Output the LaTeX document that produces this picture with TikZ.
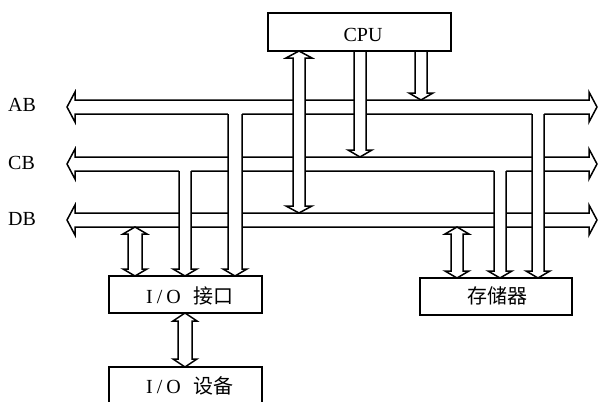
\documentclass[tikz,border=0pt]{standalone}
\usepackage{fontspec}
\setmainfont{Liberation Serif}
\newfontfamily\cjk{Noto Sans CJK SC}
\tikzset{
  arr/.style={line width=1.5pt, line join=miter},
  box/.style={draw, line width=1.6pt, fill=white, inner sep=0pt},
  lbl/.style={inner sep=0pt, font=\fontsize{20}{22}\selectfont},
  cjklbl/.style={inner sep=0pt, font=\fontsize{20}{22}\selectfont}
}
% horizontal bus: center y
\newcommand\busarrow[1]{%
  \filldraw[arr, fill=white] (67,#1) -- (75,{#1-15}) -- (75,{#1-7}) -- (589,{#1-7}) -- (589,{#1-15})
    -- (597,#1) -- (589,{#1+15}) -- (589,{#1+7}) -- (75,{#1+7}) -- (75,{#1+15}) -- cycle;}
% single downward arrow, open at top: cx, ystart, ytip, half shaft, half head, head length
\newcommand\vsingle[6]{%
  \fill[white] ({#1-#4},{#2-3}) -- ({#1-#4},{#3-#6}) -- ({#1-#5},{#3-#6}) -- (#1,#3)
    -- ({#1+#5},{#3-#6}) -- ({#1+#4},{#3-#6}) -- ({#1+#4},{#2-3}) -- cycle;
  \draw[arr] ({#1-#4},#2) -- ({#1-#4},{#3-#6}) -- ({#1-#5},{#3-#6}) -- (#1,#3)
    -- ({#1+#5},{#3-#6}) -- ({#1+#4},{#3-#6}) -- ({#1+#4},#2);}
% double vertical arrow: cx, ytop tip, ybottom tip, half shaft, half head, head length
\newcommand\vdouble[6]{%
  \filldraw[arr, fill=white] (#1,#2) -- ({#1+#5},{#2+#6}) -- ({#1+#4},{#2+#6}) -- ({#1+#4},{#3-#6})
    -- ({#1+#5},{#3-#6}) -- (#1,#3) -- ({#1-#5},{#3-#6}) -- ({#1-#4},{#3-#6})
    -- ({#1-#4},{#2+#6}) -- ({#1-#5},{#2+#6}) -- cycle;}
\begin{document}
\begin{tikzpicture}[x=1pt,y=-1pt]
\useasboundingbox (0,0) rectangle (598,402);
\clip (0,0) rectangle (598,402);

% buses
\busarrow{107}
\busarrow{164}
\busarrow{220}
\node[lbl, anchor=west] (ab) at (8,105) {AB};
\node[lbl, anchor=west] (cb) at (8,163) {CB};
\node[lbl, anchor=west] (db) at (8,219) {DB};

% CPU connections
\vdouble{299}{51}{213}{6}{13}{7}
\vsingle{360}{51}{157}{6}{12}{7}
\vsingle{421}{51}{100}{6}{12}{7}

% I/O interface connections
\vdouble{135}{227}{276}{7}{12}{7}
\vsingle{185}{171}{276}{6}{12}{7}
\vsingle{235}{114}{276}{7}{12}{7}

% memory connections
\vdouble{457}{227}{278}{6}{12}{7}
\vsingle{500}{171}{278}{6}{12}{7}
\vsingle{538}{114}{278}{6}{12}{7}

% I/O interface <-> device
\vdouble{185}{313}{367}{7}{12}{8}

% boxes
\node[box, minimum width=183pt, minimum height=38pt] (cpu) at (359.5,32) {};
\node[lbl] (cputxt) at (363,35) {CPU};

\node[box, minimum width=153pt, minimum height=37pt] (io) at (185.5,294.5) {};
\node[lbl] (iotxt) at (190,296) {I\hspace{4pt}/\hspace{4pt}O\hspace{13pt}{\cjk 接口}};

\node[box, minimum width=152pt, minimum height=37pt] (mem) at (496,296.5) {};
\node[cjklbl] (memtxt) at (497,296) {\cjk 存储器};

\node[box, minimum width=153pt, minimum height=60pt] (dev) at (185.5,397) {};
\node[lbl] (devtxt) at (190,386) {I\hspace{4pt}/\hspace{4pt}O\hspace{13pt}{\cjk 设备}};
\end{tikzpicture}
\end{document}
